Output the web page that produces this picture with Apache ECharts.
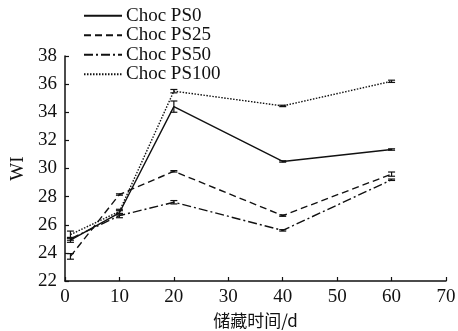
<!DOCTYPE html>
<html>
<head>
<meta charset="utf-8">
<script src="https://cdn.jsdelivr.net/npm/echarts@6/dist/echarts.min.js"></script>
<style>
  html, body { margin: 0; padding: 0; background: #fff; }
  #main { width: 458px; height: 331px; }
</style>
</head>
<body>
<div id="main"></div>
<script>
// 储藏时间（天）
const days = [1, 10, 20, 40, 60];
const seriesNames = ['Choc PS0', 'Choc PS25', 'Choc PS50', 'Choc PS100'];
// WI 数据
const ps0 = [24.9, 26.85, 34.4, 30.5, 31.35];
const ps25 = [23.75, 28.15, 29.8, 26.65, 29.6];
const ps50 = [25.0, 26.65, 27.6, 25.6, 29.2];
const ps100 = [25.3, 26.95, 35.5, 34.45, 36.2];
// 误差
const ps0Err = [0.15, 0.15, 0.4, 0.05, 0.05];
const ps25Err = [0.2, 0.05, 0.05, 0.05, 0.15];
const ps50Err = [0.1, 0.15, 0.12, 0.05, 0.05];
const ps100Err = [0.25, 0.15, 0.12, 0.05, 0.08];

const serif = '"Liberation Serif", "DejaVu Serif", serif';
const dashTypes = ['solid', [7, 4], [9, 3, 2, 3], [1.5, 1.5]];
const valueList = [ps0, ps25, ps50, ps100];
const errList = [ps0Err, ps25Err, ps50Err, ps100Err];

const chartDom = document.getElementById('main');
const myChart = echarts.init(chartDom, null, { renderer: 'canvas' });

const lineSeries = valueList.map(function (vals, i) {
  return {
    name: seriesNames[i],
    type: 'line',
    symbol: 'none',
    data: days.map(function (d, j) { return [d, vals[j]]; }),
    lineStyle: { color: '#111', width: 1.4, type: dashTypes[i] },
    itemStyle: { color: '#111' },
    z: 3
  };
});

// 误差线
const errSeries = valueList.map(function (vals, i) {
  return {
    type: 'custom',
    silent: true,
    data: days.map(function (d, j) { return [d, vals[j], errList[i][j]]; }),
    encode: { x: 0, y: 1 },
    renderItem: function (params, api) {
      const x = api.value(0), y = api.value(1), e = api.value(2);
      const top = api.coord([x, y + e]);
      const bottom = api.coord([x, y - e]);
      const w = 3.5;
      const style = { stroke: '#111', lineWidth: 1.2 };
      return {
        type: 'group',
        children: [
          { type: 'line', shape: { x1: top[0], y1: top[1], x2: bottom[0], y2: bottom[1] }, style: style },
          { type: 'line', shape: { x1: top[0] - w, y1: top[1], x2: top[0] + w, y2: top[1] }, style: style },
          { type: 'line', shape: { x1: bottom[0] - w, y1: bottom[1], x2: bottom[0] + w, y2: bottom[1] }, style: style }
        ]
      };
    },
    z: 4
  };
});

const option = {
  backgroundColor: '#fff',
  animation: false,
  legend: {
    data: seriesNames,
    orient: 'vertical',
    left: 83,
    top: 6,
    padding: 0,
    itemWidth: 38,
    itemHeight: 14,
    itemGap: 0,
    itemStyle: { opacity: 0 },
    textStyle: { fontFamily: serif, fontSize: 19, lineHeight: 19.5, color: '#111', padding: [0, 0, 0, -1] }
  },
  grid: { left: 65, right: 12, top: 56, bottom: 50, outerBoundsMode: 'none', containLabel: false },
  xAxis: {
    type: 'value',
    min: 0,
    max: 70,
    interval: 10,
    name: '储藏时间/d',
    nameLocation: 'middle',
    nameGap: 31,
    nameTextStyle: { fontFamily: '"Noto Sans CJK SC", serif', fontSize: 17, color: '#111' },
    axisLine: { lineStyle: { color: '#111', width: 1.5 } },
    axisTick: { inside: true, length: 4, lineStyle: { color: '#111', width: 1.2 } },
    axisLabel: { fontFamily: serif, fontSize: 19, color: '#111', margin: 7 },
    splitLine: { show: false }
  },
  yAxis: {
    type: 'value',
    min: 22,
    max: 38,
    interval: 2,
    name: 'WI',
    nameLocation: 'middle',
    nameGap: 35,
    nameTextStyle: { fontFamily: serif, fontSize: 19, color: '#111' },
    axisLine: { show: true, lineStyle: { color: '#111', width: 1.5 } },
    axisTick: { show: true, inside: true, length: 4, lineStyle: { color: '#111', width: 1.2 } },
    axisLabel: { fontFamily: serif, fontSize: 19, color: '#111', margin: 8 },
    splitLine: { show: false }
  },
  series: lineSeries.concat(errSeries)
};

option && myChart.setOption(option);
</script>
</body>
</html>
